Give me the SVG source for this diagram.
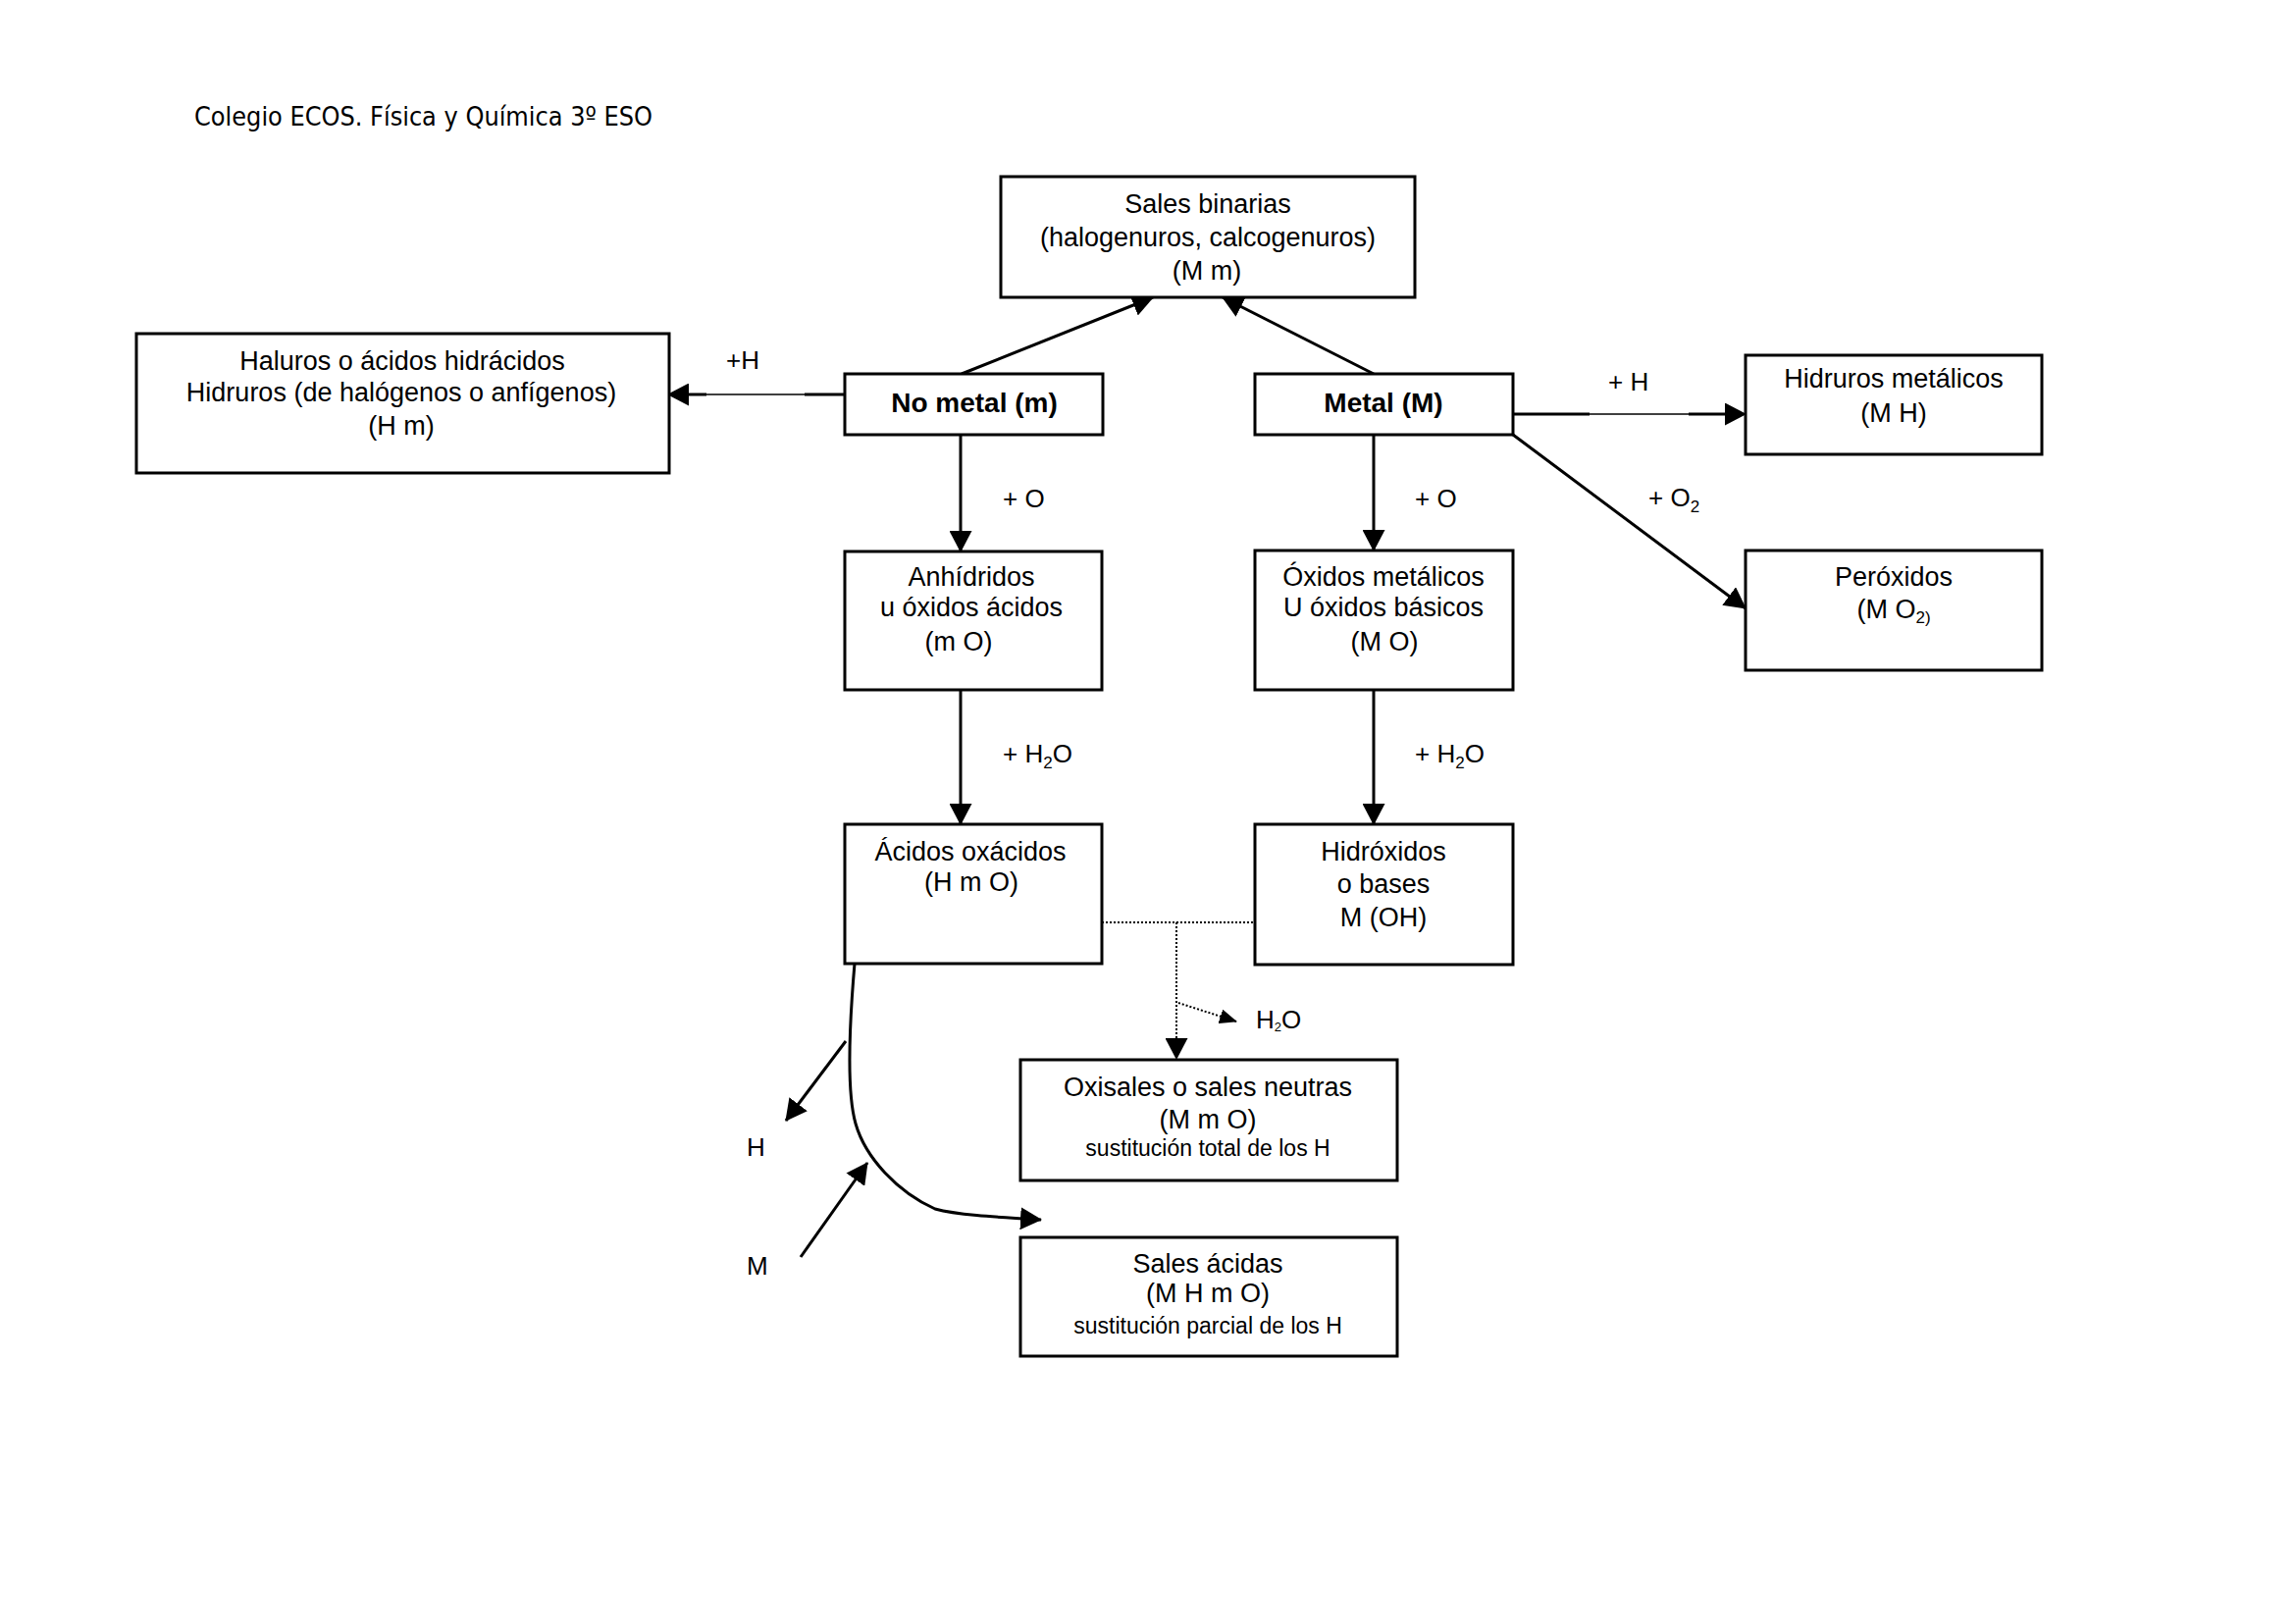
<svg xmlns="http://www.w3.org/2000/svg" width="2339" height="1655" viewBox="0 0 2339 1655">
<style>
.bx{fill:#fff;stroke:#000;stroke-width:3}
.t{font-family:"Liberation Sans",Arial,sans-serif;font-size:27px;fill:#000;text-anchor:middle}
.tl{font-family:"Liberation Sans",Arial,sans-serif;font-size:26px;fill:#000}
.b{font-family:"Liberation Sans",Arial,sans-serif;font-size:28px;font-weight:bold;fill:#000;text-anchor:middle}
.s{font-family:"Liberation Sans",Arial,sans-serif;font-size:23px;fill:#000;text-anchor:middle}
.c{fill:none;stroke:#000;stroke-width:3}
.thin{fill:none;stroke:#000;stroke-width:1.5}
.dot{fill:none;stroke:#000;stroke-width:2;stroke-dasharray:2 2}
</style>
<defs>
<marker id="ah" viewBox="0 0 22 23" refX="21" refY="11.5" markerWidth="22" markerHeight="23" markerUnits="userSpaceOnUse" orient="auto">
<path d="M0,0 L22,11.5 L0,23 z" fill="#000"/>
</marker>
<marker id="ahs" viewBox="0 0 18 15" refX="17" refY="7.5" markerWidth="18" markerHeight="15" markerUnits="userSpaceOnUse" orient="auto">
<path d="M0,0 L18,7.5 L0,15 z" fill="#000"/>
</marker>
</defs>
<rect width="2339" height="1655" fill="#fff"/>
<text x="198" y="128" font-family="DejaVu Sans Condensed, DejaVu Sans, sans-serif" font-size="27" textLength="467" lengthAdjust="spacingAndGlyphs">Colegio ECOS. Física y Química 3º ESO</text>

<g id="connectors">
<line class="c" x1="980" y1="381" x2="1175" y2="303" marker-end="url(#ah)"/>
<line class="c" x1="1400" y1="381" x2="1246" y2="303" marker-end="url(#ah)"/>
<g>
<line class="thin" x1="861" y1="402" x2="681" y2="402" marker-end="url(#ah)"/>
<line class="c" x1="861" y1="402" x2="820" y2="402"/>
<line class="c" x1="720" y1="402" x2="700" y2="402"/>
</g>
<g>
<line class="thin" x1="1542" y1="422" x2="1779" y2="422" marker-end="url(#ah)"/>
<line class="c" x1="1542" y1="422" x2="1620" y2="422"/>
<line class="c" x1="1721" y1="422" x2="1762" y2="422"/>
</g>
<line class="c" x1="1542" y1="443" x2="1779" y2="620" marker-end="url(#ah)"/>
<line class="c" x1="979" y1="443" x2="979" y2="562" marker-end="url(#ah)"/>
<line class="c" x1="1400" y1="443" x2="1400" y2="561" marker-end="url(#ah)"/>
<line class="c" x1="979" y1="703" x2="979" y2="840" marker-end="url(#ah)"/>
<line class="c" x1="1400" y1="703" x2="1400" y2="840" marker-end="url(#ah)"/>
<line class="dot" x1="1123" y1="940" x2="1279" y2="940"/>
<line class="dot" x1="1199" y1="940" x2="1199" y2="1079" marker-end="url(#ah)"/>
<line class="dot" x1="1201" y1="1022" x2="1260" y2="1041" marker-end="url(#ahs)"/>
<path class="c" d="M 871 982 C 866 1040, 862 1110, 872 1145 C 882 1180, 915 1215, 953 1232 C 975 1238, 1010 1240, 1061 1243" marker-end="url(#ah)"/>
<line class="c" x1="862" y1="1061" x2="801" y2="1142" marker-end="url(#ah)"/>
<line class="c" x1="816" y1="1281" x2="884" y2="1185" marker-end="url(#ah)"/>
</g>

<g id="labels">
<text class="tl" x="740" y="376">+H</text>
<text class="tl" x="1639" y="398">+ H</text>
<text class="tl" x="1680" y="516">+ O<tspan font-size="17" dy="6">2</tspan></text>
<text class="tl" x="1022" y="517">+ O</text>
<text class="tl" x="1442" y="517">+ O</text>
<text class="tl" x="1022" y="777">+ H<tspan font-size="17" dy="6">2</tspan><tspan dy="-6">O</tspan></text>
<text class="tl" x="1442" y="777">+ H<tspan font-size="17" dy="6">2</tspan><tspan dy="-6">O</tspan></text>
<text class="tl" x="1280" y="1048" font-size="21">H<tspan font-size="13" dy="3">2</tspan><tspan dy="-3">O</tspan></text>
<text class="tl" x="761" y="1178">H</text>
<text class="tl" x="761" y="1299">M</text>
</g>

<g id="sales-binarias">
<rect class="bx" x="1020" y="180" width="422" height="123"/>
<text class="t" x="1231" y="217">Sales binarias</text>
<text class="t" x="1231" y="251">(halogenuros, calcogenuros)</text>
<text class="t" x="1230" y="285">(M m)</text>
</g>
<g id="haluros">
<rect class="bx" x="139" y="340" width="543" height="142"/>
<text class="t" x="410" y="377">Haluros o ácidos hidrácidos</text>
<text class="t" x="409" y="409">Hidruros (de halógenos o anfígenos)</text>
<text class="t" x="409" y="443">(H m)</text>
</g>
<g id="no-metal">
<rect class="bx" x="861" y="381" width="263" height="62"/>
<text class="b" x="993" y="420">No metal (m)</text>
</g>
<g id="metal">
<rect class="bx" x="1279" y="381" width="263" height="62"/>
<text class="b" x="1410" y="420">Metal (M)</text>
</g>
<g id="hidruros-metalicos">
<rect class="bx" x="1779" y="362" width="302" height="101"/>
<text class="t" x="1930" y="395">Hidruros metálicos</text>
<text class="t" x="1930" y="430">(M H)</text>
</g>
<g id="peroxidos">
<rect class="bx" x="1779" y="561" width="302" height="122"/>
<text class="t" x="1930" y="597">Peróxidos</text>
<text class="t" x="1930" y="630">(M O<tspan font-size="17" dy="5">2)</tspan></text>
</g>
<g id="anhidridos">
<rect class="bx" x="861" y="562" width="262" height="141"/>
<text class="t" x="990" y="597">Anhídridos</text>
<text class="t" x="990" y="628">u óxidos ácidos</text>
<text class="t" x="977" y="663">(m O)</text>
</g>
<g id="oxidos-metalicos">
<rect class="bx" x="1279" y="561" width="263" height="142"/>
<text class="t" x="1410" y="597">Óxidos metálicos</text>
<text class="t" x="1410" y="628">U óxidos básicos</text>
<text class="t" x="1411" y="663">(M O)</text>
</g>
<g id="acidos-oxacidos">
<rect class="bx" x="861" y="840" width="262" height="142"/>
<text class="t" x="989" y="877">Ácidos oxácidos</text>
<text class="t" x="990" y="908">(H m O)</text>
</g>
<g id="hidroxidos">
<rect class="bx" x="1279" y="840" width="263" height="143"/>
<text class="t" x="1410" y="877">Hidróxidos</text>
<text class="t" x="1410" y="910">o bases</text>
<text class="t" x="1410" y="944">M (OH)</text>
</g>
<g id="oxisales">
<rect class="bx" x="1040" y="1080" width="384" height="123"/>
<text class="t" x="1231" y="1117">Oxisales o sales neutras</text>
<text class="t" x="1231" y="1150">(M m O)</text>
<text class="s" x="1231" y="1178">sustitución total de los H</text>
</g>
<g id="sales-acidas">
<rect class="bx" x="1040" y="1261" width="384" height="121"/>
<text class="t" x="1231" y="1297">Sales ácidas</text>
<text class="t" x="1231" y="1327">(M H m O)</text>
<text class="s" x="1231" y="1359">sustitución parcial de los H</text>
</g>
</svg>
